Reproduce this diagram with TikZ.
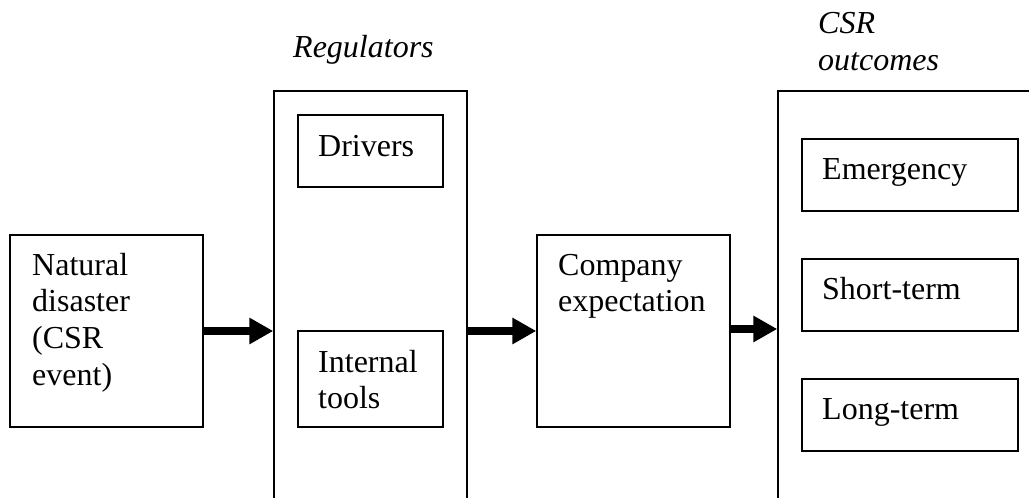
\documentclass[tikz,border=0pt]{standalone}
\usepackage{fontspec}
\setmainfont{Liberation Serif}
\usetikzlibrary{arrows.meta}
\begin{document}
\begin{tikzpicture}[x=1pt,y=-1pt,
  frame/.style={draw=black,line width=1.4pt,rectangle,inner sep=0pt},
  lbl/.style={inner sep=0pt,align=left,font=\fontsize{32}{36.7}\selectfont},
  ttl/.style={lbl,font=\fontsize{32}{36.7}\selectfont\itshape},
  bigarrow/.style={line width=8pt,-{Triangle[length=24pt,width=25pt]}}]
\useasboundingbox (0,0) rectangle (1029,498);
\clip (0,0) rectangle (1029,498);
% boxes
\node[frame,minimum width=193pt,minimum height=192pt] (nd) at (106.5,331) {};
\node[frame,minimum width=193pt,minimum height=440pt] (reg) at (370.5,311) {};
\node[frame,minimum width=145pt,minimum height=72pt] (drv) at (370.5,151) {};
\node[frame,minimum width=145pt,minimum height=96pt] (int) at (370.5,379) {};
\node[frame,minimum width=193pt,minimum height=192pt] (comp) at (633.5,331) {};
\node[frame,minimum width=300pt,minimum height=440pt] (out) at (928,311) {};
\node[frame,minimum width=216pt,minimum height=72pt] (emg) at (910,175) {};
\node[frame,minimum width=216pt,minimum height=72pt] (sht) at (910,295) {};
\node[frame,minimum width=216pt,minimum height=72pt] (lng) at (910,415) {};
% labels
\node[lbl,anchor=base west] (ndt) at (32,275) {Natural};
\node[lbl,anchor=base west] (ndt2) at (32,311.7) {disaster};
\node[lbl,anchor=base west] (ndt3) at (32,348.4) {(CSR};
\node[lbl,anchor=base west] (ndt4) at (32,385.1) {event)};
\node[lbl,anchor=base west] (drvt) at (318,156) {Drivers};
\node[lbl,anchor=base west] (intt) at (318,372) {Internal};
\node[lbl,anchor=base west] (intt2) at (318,408) {tools};
\node[lbl,anchor=base west] (compt) at (558,275) {Company};
\node[lbl,anchor=base west] (compt2) at (558,311.7) {expectation};
\node[lbl,anchor=base west] (emgt) at (822,179) {Emergency};
\node[lbl,anchor=base west] (shtt) at (822,299) {Short-term};
\node[lbl,anchor=base west] (lngt) at (822,419) {Long-term};
\node[ttl,anchor=base west] (regt) at (293,57) {Regulators};
\node[ttl,anchor=base west] (outt) at (818,33) {CSR};
\node[ttl,anchor=base west] (outt2) at (818,70) {outcomes};
% connectors
\draw[bigarrow] (nd.east) -- (nd.east -| reg.west);
\draw[bigarrow] (comp.west -| reg.east) -- (comp.west);
\draw[bigarrow] ([yshift=2pt]comp.east) -- ([yshift=2pt]comp.east -| out.west);
\end{tikzpicture}
\end{document}
